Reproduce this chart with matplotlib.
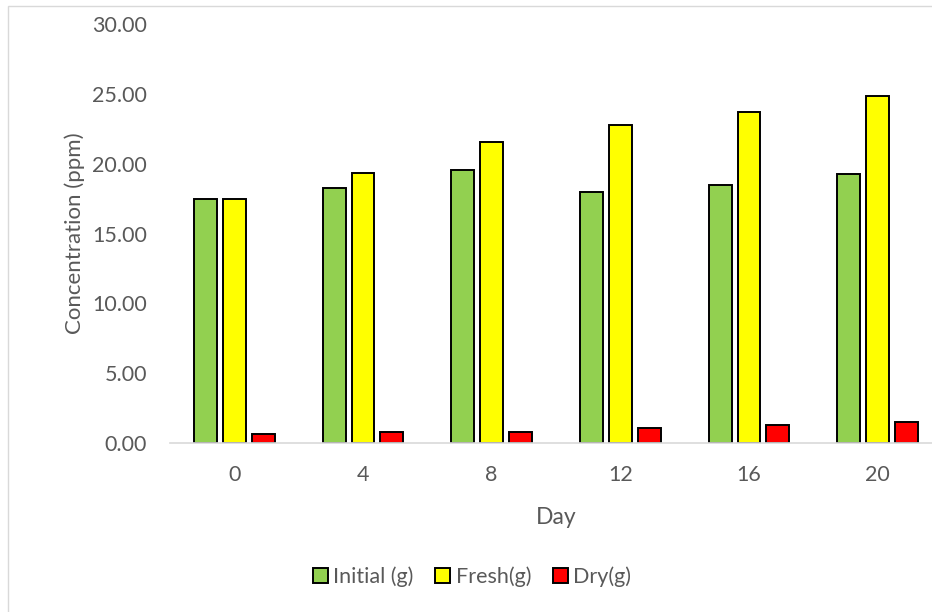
import matplotlib
matplotlib.use("Agg")
import matplotlib.pyplot as plt
from matplotlib.patches import Rectangle
import numpy as np

days = ["0", "4", "8", "12", "16", "20"]
initial_g = [17.47, 18.25, 19.52, 17.97, 18.45, 19.26]
fresh_g = [17.47, 19.35, 21.52, 22.74, 23.70, 24.84]
dry_g = [0.64, 0.76, 0.79, 1.07, 1.31, 1.52]
y_ticks = [0, 5, 10, 15, 20, 25, 30]

series = [
    ("Initial (g)", initial_g, "#92D050"),
    ("Fresh(g)", fresh_g, "#FFFF00"),
    ("Dry(g)", dry_g, "#FF0000"),
]

plt.rcParams["font.family"] = ["Lato", "DejaVu Sans"]
text_color = "#595959"

fig = plt.figure(figsize=(9.32, 6.12), dpi=100)
fig.patches.append(Rectangle((8 / 932, -0.1), 1.2, 1 - 6 / 612 + 0.1,
                             transform=fig.transFigure, fill=False,
                             edgecolor="#d9d9d9", linewidth=1.0))

ax = fig.add_axes([170 / 932, 1 - 443 / 612, 772 / 932, 419 / 612])

x = np.arange(len(days))
width = 0.178
step = 0.225
for i, (name, vals, color) in enumerate(series):
    ax.bar(x + (i - 1) * step, vals, width, color=color, edgecolor="black",
           linewidth=1.4, label=name)

ax.set_xlim(-0.5, len(days) - 0.5)
ax.set_ylim(0, 30)
ax.set_yticks(y_ticks)
ax.set_yticklabels([f"{v:.2f}" for v in y_ticks])
ax.set_xticks(x)
ax.set_xticklabels(days)

for s in ["top", "right", "left"]:
    ax.spines[s].set_visible(False)
ax.spines["bottom"].set_color("#d9d9d9")
ax.spines["bottom"].set_linewidth(1.2)
ax.tick_params(axis="both", length=0, labelsize=15.5, labelcolor=text_color)
ax.tick_params(axis="y", pad=16.5)
ax.tick_params(axis="x", pad=16)

ax.set_xlabel("Day", fontsize=16.5, color=text_color, labelpad=16)
ax.set_ylabel("Concentration (ppm)", fontsize=16, color=text_color, labelpad=5)

handles, labels = ax.get_legend_handles_labels()
leg = fig.legend(handles, labels, loc="center", bbox_to_anchor=(472 / 932, 1 - 577 / 612),
                 ncol=3, frameon=False, fontsize=15.5, handlelength=0.7,
                 handleheight=0.7, handletextpad=0.25, columnspacing=1.0)
for t in leg.get_texts():
    t.set_color(text_color)

fig.savefig("out.png", dpi=100)
